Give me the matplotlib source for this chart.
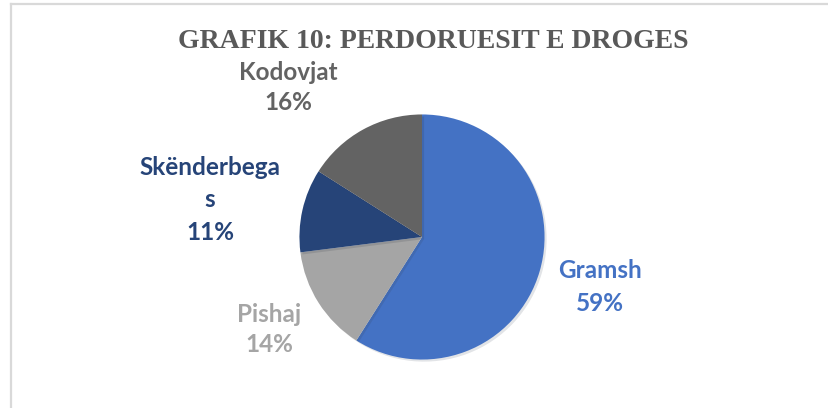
import matplotlib.pyplot as plt
import matplotlib.patheffects as pe
from matplotlib.lines import Line2D

W, H = 829, 408

regions = ["Gramsh", "Pishaj", "Skënderbegas", "Kodovjat"]
shares = [59, 14, 11, 16]
colors = ["#4472C4", "#A5A5A5", "#264478", "#636363"]
label_lines = [["Gramsh"], ["Pishaj"], ["Skënderbega", "s"], ["Kodovjat"]]

# label layout in pixels: x centre, baselines of each line
label_pos = [
    (600, [278, 311]),
    (269, [322, 352]),
    (210, [175, 207, 240]),
    (288, [80, 110]),
]


def px(x, y):
    return x / W, 1 - y / H


fig = plt.figure(figsize=(W / 100, H / 100), dpi=100)
fig.patch.set_facecolor("white")

# chart frame (only top and left edges are visible in the crop)
fig.add_artist(Line2D([11 / W, 11 / W], [0, 1 - 4 / H], color="#d9d9d9", lw=1.6))
fig.add_artist(Line2D([11 / W, 1], [1 - 4 / H, 1 - 4 / H], color="#d9d9d9", lw=1.6))

cx, cy, r = 422, 237, 125
ax = fig.add_axes([(cx - r) / W, (H - cy - r) / H, 2 * r / W, 2 * r / H])
wedges, _ = ax.pie(
    shares,
    colors=colors,
    startangle=90,
    counterclock=False,
    radius=1,
    wedgeprops=dict(linewidth=0),
)
for w in wedges:
    w.set_path_effects([pe.SimplePatchShadow(offset=(1.5, -1.5), alpha=0.12), pe.Normal()])
ax.set_xlim(-1.02, 1.02)
ax.set_ylim(-1.02, 1.02)
ax.axis("off")

fig.text(*px(433, 48), "GRAFIK 10: PERDORUESIT E DROGES", ha="center", va="baseline",
         fontsize=20, fontweight="bold", family="Liberation Serif", color="#595959")

for lines, share, col, (x, ys) in zip(label_lines, shares, colors, label_pos):
    for txt, y in zip(lines + [f"{share}%"], ys):
        fig.text(*px(x, y), txt, ha="center", va="baseline", fontsize=17.5,
                 fontweight="bold", family="Lato", color=col)

fig.savefig("out.png", dpi=100)
